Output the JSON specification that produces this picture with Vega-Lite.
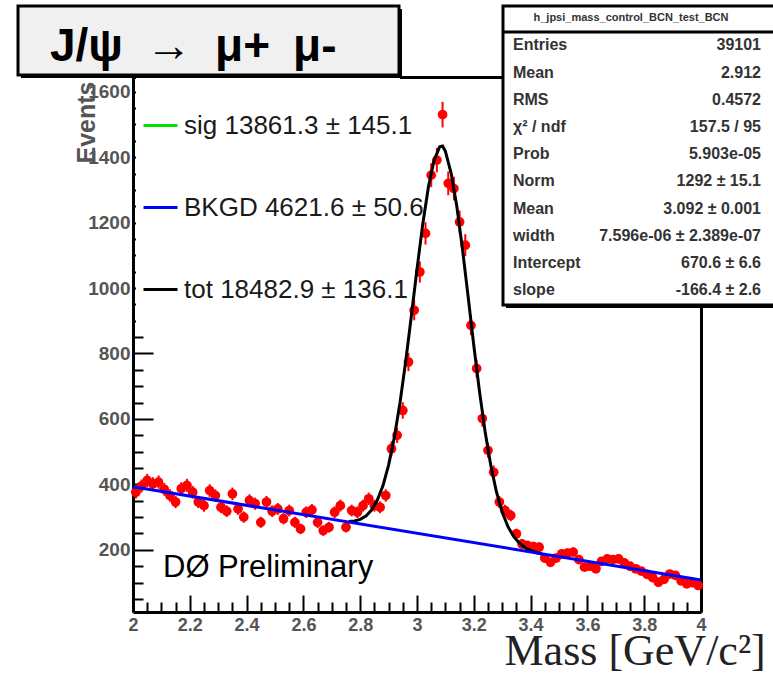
{
  "$schema": "https://vega.github.io/schema/vega-lite/v6.json",
  "width": 568,
  "height": 535,
  "autosize": {"type": "none"},
  "padding": {"left": 133, "top": 77, "right": 72, "bottom": 62},
  "background": "white",
  "datasets": {
    "hist": [
      {"mass": 2.01, "n": 376, "err": 19.4}, {"mass": 2.03, "n": 395, "err": 19.9}, {"mass": 2.05, "n": 412, "err": 20.3}, {"mass": 2.07, "n": 402, "err": 20.0}, {"mass": 2.09, "n": 407, "err": 20.2},
      {"mass": 2.11, "n": 385, "err": 19.6}, {"mass": 2.13, "n": 366, "err": 19.1}, {"mass": 2.15, "n": 346, "err": 18.6}, {"mass": 2.17, "n": 387, "err": 19.7}, {"mass": 2.19, "n": 397, "err": 19.9},
      {"mass": 2.21, "n": 376, "err": 19.4}, {"mass": 2.23, "n": 346, "err": 18.6}, {"mass": 2.25, "n": 335, "err": 18.3}, {"mass": 2.27, "n": 381, "err": 19.5}, {"mass": 2.29, "n": 366, "err": 19.1},
      {"mass": 2.31, "n": 330, "err": 18.2}, {"mass": 2.33, "n": 318, "err": 17.8}, {"mass": 2.35, "n": 371, "err": 19.3}, {"mass": 2.37, "n": 325, "err": 18.0}, {"mass": 2.39, "n": 300, "err": 17.3},
      {"mass": 2.41, "n": 351, "err": 18.7}, {"mass": 2.43, "n": 341, "err": 18.5}, {"mass": 2.45, "n": 284, "err": 16.9}, {"mass": 2.47, "n": 346, "err": 18.6}, {"mass": 2.49, "n": 318, "err": 17.8},
      {"mass": 2.51, "n": 325, "err": 18.0}, {"mass": 2.53, "n": 295, "err": 17.2}, {"mass": 2.55, "n": 320, "err": 17.9}, {"mass": 2.57, "n": 284, "err": 16.9}, {"mass": 2.59, "n": 264, "err": 16.2},
      {"mass": 2.61, "n": 315, "err": 17.7}, {"mass": 2.63, "n": 322, "err": 17.9}, {"mass": 2.65, "n": 284, "err": 16.9}, {"mass": 2.67, "n": 259, "err": 16.1}, {"mass": 2.69, "n": 269, "err": 16.4},
      {"mass": 2.71, "n": 315, "err": 17.7}, {"mass": 2.73, "n": 335, "err": 18.3}, {"mass": 2.75, "n": 269, "err": 16.4}, {"mass": 2.77, "n": 320, "err": 17.9}, {"mass": 2.79, "n": 315, "err": 17.7},
      {"mass": 2.81, "n": 335, "err": 18.3}, {"mass": 2.83, "n": 356, "err": 18.9}, {"mass": 2.85, "n": 335, "err": 18.3}, {"mass": 2.87, "n": 330, "err": 18.2}, {"mass": 2.89, "n": 366, "err": 19.1},
      {"mass": 2.91, "n": 509, "err": 22.6}, {"mass": 2.93, "n": 550, "err": 23.5}, {"mass": 2.95, "n": 626, "err": 25.0}, {"mass": 2.97, "n": 774, "err": 27.8}, {"mass": 2.99, "n": 932, "err": 30.5},
      {"mass": 3.01, "n": 1049, "err": 32.4}, {"mass": 3.03, "n": 1167, "err": 34.2}, {"mass": 3.05, "n": 1345, "err": 36.7}, {"mass": 3.07, "n": 1391, "err": 37.3}, {"mass": 3.09, "n": 1530, "err": 39.1},
      {"mass": 3.11, "n": 1320, "err": 36.3}, {"mass": 3.13, "n": 1304, "err": 36.1}, {"mass": 3.15, "n": 1202, "err": 34.7}, {"mass": 3.17, "n": 1131, "err": 33.6}, {"mass": 3.19, "n": 886, "err": 29.8},
      {"mass": 3.21, "n": 754, "err": 27.5}, {"mass": 3.23, "n": 601, "err": 24.5}, {"mass": 3.25, "n": 504, "err": 22.4}, {"mass": 3.27, "n": 437, "err": 20.9}, {"mass": 3.29, "n": 346, "err": 18.6},
      {"mass": 3.31, "n": 320, "err": 17.9}, {"mass": 3.33, "n": 305, "err": 17.5}, {"mass": 3.35, "n": 249, "err": 15.8}, {"mass": 3.37, "n": 218, "err": 14.8}, {"mass": 3.39, "n": 213, "err": 14.6},
      {"mass": 3.41, "n": 210, "err": 14.5}, {"mass": 3.43, "n": 208, "err": 14.4}, {"mass": 3.45, "n": 175, "err": 13.2}, {"mass": 3.47, "n": 162, "err": 12.7}, {"mass": 3.49, "n": 175, "err": 13.2},
      {"mass": 3.51, "n": 188, "err": 13.7}, {"mass": 3.53, "n": 190, "err": 13.8}, {"mass": 3.55, "n": 193, "err": 13.9}, {"mass": 3.57, "n": 170, "err": 13.0}, {"mass": 3.59, "n": 147, "err": 12.1},
      {"mass": 3.61, "n": 150, "err": 12.2}, {"mass": 3.63, "n": 142, "err": 11.9}, {"mass": 3.65, "n": 165, "err": 12.8}, {"mass": 3.67, "n": 172, "err": 13.1}, {"mass": 3.69, "n": 170, "err": 13.0},
      {"mass": 3.71, "n": 172, "err": 13.1}, {"mass": 3.73, "n": 160, "err": 12.6}, {"mass": 3.75, "n": 150, "err": 12.2}, {"mass": 3.77, "n": 142, "err": 11.9}, {"mass": 3.79, "n": 135, "err": 11.6},
      {"mass": 3.81, "n": 125, "err": 11.2}, {"mass": 3.83, "n": 115, "err": 10.7}, {"mass": 3.85, "n": 101, "err": 10.0}, {"mass": 3.87, "n": 110, "err": 10.5}, {"mass": 3.89, "n": 126, "err": 11.2},
      {"mass": 3.91, "n": 122, "err": 11.0}, {"mass": 3.93, "n": 105, "err": 10.2}, {"mass": 3.95, "n": 96, "err": 9.8}, {"mass": 3.97, "n": 100, "err": 10.0}, {"mass": 3.99, "n": 91, "err": 9.5}
    ],
    "tot": [
      {"series": "tot", "mass": 2.76, "n": 286.8}, {"series": "tot", "mass": 2.78, "n": 288.3}, {"series": "tot", "mass": 2.80, "n": 293.2}, {"series": "tot", "mass": 2.82, "n": 303.5},
      {"series": "tot", "mass": 2.84, "n": 321.7}, {"series": "tot", "mass": 2.86, "n": 351.2}, {"series": "tot", "mass": 2.88, "n": 395.7}, {"series": "tot", "mass": 2.90, "n": 458.7},
      {"series": "tot", "mass": 2.92, "n": 542.8}, {"series": "tot", "mass": 2.94, "n": 648.7}, {"series": "tot", "mass": 2.96, "n": 774.4}, {"series": "tot", "mass": 2.98, "n": 913.8},
      {"series": "tot", "mass": 3.00, "n": 1057.7}, {"series": "tot", "mass": 3.02, "n": 1193.7}, {"series": "tot", "mass": 3.04, "n": 1308.2}, {"series": "tot", "mass": 3.06, "n": 1390.0},
      {"series": "tot", "mass": 3.08, "n": 1432.0}, {"series": "tot", "mass": 3.09, "n": 1434.0}, {"series": "tot", "mass": 3.10, "n": 1418.0}, {"series": "tot", "mass": 3.12, "n": 1351.5},
      {"series": "tot", "mass": 3.14, "n": 1250.5}, {"series": "tot", "mass": 3.16, "n": 1120.1}, {"series": "tot", "mass": 3.18, "n": 973.6}, {"series": "tot", "mass": 3.20, "n": 824.5},
      {"series": "tot", "mass": 3.22, "n": 684.1}, {"series": "tot", "mass": 3.24, "n": 560.1}, {"series": "tot", "mass": 3.26, "n": 457.2}, {"series": "tot", "mass": 3.28, "n": 376.0},
      {"series": "tot", "mass": 3.30, "n": 315.1}, {"series": "tot", "mass": 3.32, "n": 271.4}, {"series": "tot", "mass": 3.34, "n": 241.1}, {"series": "tot", "mass": 3.36, "n": 220.8},
      {"series": "tot", "mass": 3.38, "n": 207.2}, {"series": "tot", "mass": 3.40, "n": 198.2}, {"series": "tot", "mass": 3.42, "n": 192.0}, {"series": "tot", "mass": 3.44, "n": 187.2}
    ],
    "bkg": [
      {"series": "BKGD", "mass": 2.0, "n": 393},
      {"series": "BKGD", "mass": 4.0, "n": 108}
    ],
    "stats": [
      {"row": 1, "name": "Entries", "val": "39101"},
      {"row": 2, "name": "Mean", "val": "2.912"},
      {"row": 3, "name": "RMS", "val": "0.4572"},
      {"row": 4, "name": "χ² / ndf", "val": "157.5 / 95"},
      {"row": 5, "name": "Prob", "val": "5.903e-05"},
      {"row": 6, "name": "Norm", "val": "1292 ± 15.1"},
      {"row": 7, "name": "Mean", "val": "3.092 ± 0.001"},
      {"row": 8, "name": "width", "val": "7.596e-06 ± 2.389e-07"},
      {"row": 9, "name": "Intercept", "val": "670.6 ± 6.6"},
      {"row": 10, "name": "slope", "val": "-166.4 ± 2.6"}
    ]
  },
  "layer": [
    {
      "layer": [
        {
          "data": {"values": [{"box": "legend"}]},
          "mark": {"type": "rect", "fill": "white"},
          "encoding": {"x": {"datum": 2.0106}, "x2": {"datum": 2.9401}, "y": {"datum": 1641.9}, "y2": {"datum": 865.7}}
        },
        {
          "data": {"name": "hist"},
          "mark": {"type": "errorbar", "ticks": false, "thickness": 2, "color": "#ff0000"},
          "encoding": {
            "x": {"field": "mass", "type": "quantitative", "title": "Mass [GeV/c²]"},
            "y": {"field": "n", "type": "quantitative", "title": "Events"},
            "yError": {"field": "err"}
          }
        },
        {
          "data": {"name": "hist"},
          "mark": {"type": "point", "filled": true, "shape": "circle", "size": 95, "color": "#ff0000", "opacity": 1},
          "encoding": {
            "x": {
              "field": "mass", "type": "quantitative", "title": "Mass [GeV/c²]",
              "scale": {"domain": [2, 4], "nice": false, "zero": false},
              "axis": {
                "values": [2, 2.2, 2.4, 2.6, 2.8, 3, 3.2, 3.4, 3.6, 3.8, 4],
                "format": "~g", "tickSize": -17, "labelFlush": false, "labelPadding": 21,
                "domainWidth": 3, "labelFontSize": 18, "labelFontWeight": "bold", "labelColor": "#555555",
                "titleFont": "Liberation Serif", "titleFontSize": 44, "titleFontWeight": "normal",
                "titleColor": "#222222", "titleAlign": "left", "titleBaseline": "alphabetic", "titleX": 371, "titleY": 52
              }
            },
            "y": {
              "field": "n", "type": "quantitative", "title": "Events",
              "scale": {"domain": [10, 1645], "nice": false, "zero": false},
              "axis": {
                "values": [200, 400, 600, 800, 1000, 1200, 1400, 1600],
                "format": "d", "tickSize": -20, "labelPadding": 23,
                "domainWidth": 3, "labelFontSize": 19, "labelFontWeight": "bold", "labelColor": "#555555",
                "titleFontSize": 25, "titleFontWeight": "bold", "titleColor": "#555555",
                "titleAngle": -90, "titleAlign": "center", "titleBaseline": "middle", "titleX": -47, "titleY": 45
              }
            }
          }
        },
        {
          "data": {"name": "tot"},
          "mark": {"type": "line", "strokeWidth": 3},
          "encoding": {
            "x": {"field": "mass", "type": "quantitative", "title": "Mass [GeV/c²]"},
            "y": {"field": "n", "type": "quantitative", "title": "Events"},
            "color": {
              "field": "series", "type": "nominal",
              "scale": {"domain": ["sig", "BKGD", "tot"], "range": ["#00e000", "#0000ff", "#000000"]},
              "legend": {
                "orient": "none", "legendX": 9, "legendY": 30, "title": null, "padding": 0,
                "symbolType": "stroke", "symbolSize": 1156, "symbolStrokeWidth": 3,
                "labelFontSize": 26, "labelFont": "Liberation Sans", "labelColor": "#1a1a1a",
                "labelOffset": 5, "rowPadding": 50, "labelLimit": 500,
                "labelExpr": "datum.label == 'sig' ? 'sig 13861.3 ± 145.1' : datum.label == 'BKGD' ? 'BKGD 4621.6 ± 50.6' : 'tot 18482.9 ± 136.1'"
              }
            }
          }
        },
        {
          "data": {"values": [{"label": "DØ Preliminary"}]},
          "mark": {"type": "text", "align": "left", "baseline": "alphabetic", "fontSize": 31, "font": "Liberation Sans", "color": "black"},
          "encoding": {"x": {"datum": 2.1056}, "y": {"datum": 117}, "text": {"field": "label"}}
        },
        {
          "data": {"values": [{"box": "title shadow"}]},
          "mark": {"type": "rect", "fill": "black"},
          "encoding": {"x": {"datum": 1.6057}, "x2": {"datum": 2.9472}, "y": {"datum": 1852.8}, "y2": {"datum": 1641.9}}
        },
        {
          "data": {"values": [{"box": "title"}]},
          "mark": {"type": "rect", "fill": "#f0f0f0", "stroke": "black", "strokeWidth": 3},
          "encoding": {"x": {"datum": 1.5951}, "x2": {"datum": 2.9366}, "y": {"datum": 1862.0}, "y2": {"datum": 1651.1}}
        },
        {
          "data": {"values": [{"label": "J/ψ\u2002→\u2002μ+\u2002μ-"}]},
          "mark": {"type": "text", "align": "left", "baseline": "alphabetic", "fontSize": 46, "fontWeight": "bold", "font": "Liberation Sans", "color": "black"},
          "encoding": {"x": {"datum": 1.7077}, "y": {"datum": 1693.9}, "text": {"field": "label"}}
        },
        {
          "data": {"values": [{"box": "stats shadow"}]},
          "mark": {"type": "rect", "fill": "black"},
          "encoding": {"x": {"datum": 3.3134}, "x2": {"datum": 4.36}, "y": {"datum": 1852.8}, "y2": {"datum": 939.0}}
        },
        {
          "data": {"values": [{"box": "stats"}]},
          "mark": {"type": "rect", "fill": "white", "stroke": "black", "strokeWidth": 3},
          "encoding": {"x": {"datum": 3.3028}, "x2": {"datum": 4.35}, "y": {"datum": 1862.0}, "y2": {"datum": 948.2}}
        },
        {
          "data": {"values": [{"box": "stats separator"}]},
          "mark": {"type": "rule", "color": "black", "strokeWidth": 3},
          "encoding": {"x": {"datum": 3.3028}, "x2": {"datum": 4.35}, "y": {"datum": 1782.5}}
        }
      ]
    },
    {
      "data": {"name": "bkg"},
      "mark": {"type": "line", "strokeWidth": 3},
      "encoding": {
        "x": {
          "field": "mass", "type": "quantitative",
          "axis": {
            "orient": "bottom",
            "values": [2.05, 2.1, 2.15, 2.25, 2.3, 2.35, 2.45, 2.5, 2.55, 2.65, 2.7, 2.75, 2.85, 2.9, 2.95, 3.05, 3.1, 3.15, 3.25, 3.3, 3.35, 3.45, 3.5, 3.55, 3.65, 3.7, 3.75, 3.85, 3.9, 3.95],
            "tickSize": -10, "labels": false, "domain": false, "title": null
          }
        },
        "y": {
          "field": "n", "type": "quantitative",
          "scale": {"domain": [10, 1645], "nice": false, "zero": false},
          "axis": {
            "orient": "left",
            "values": [50, 100, 150, 250, 300, 350, 450, 500, 550, 650, 700, 750, 850, 900, 950, 1050, 1100, 1150, 1250, 1300, 1350, 1450, 1500, 1550],
            "tickSize": -10, "labels": false, "domain": false, "title": null
          }
        },
        "color": {"field": "series", "type": "nominal"}
      }
    },
    {
      "layer": [
        {
          "data": {"name": "stats"},
          "mark": {"type": "text", "align": "left", "baseline": "middle", "fontSize": 16, "fontWeight": "bold", "font": "Liberation Sans", "color": "#333333"},
          "encoding": {
            "x": {"datum": 3.338, "axis": {"orient": "top", "ticks": false, "labels": false, "title": null, "domainWidth": 3}},
            "y": {
              "field": "row", "type": "quantitative",
              "scale": {"domain": [2.16, 21.85], "reverse": true, "nice": false, "zero": false},
              "axis": {"orient": "right", "ticks": false, "labels": false, "title": null, "domainWidth": 3}
            },
            "text": {"field": "name"}
          }
        },
        {
          "data": {"name": "stats"},
          "mark": {"type": "text", "align": "right", "baseline": "middle", "fontSize": 16, "fontWeight": "bold", "font": "Liberation Sans", "color": "#333333"},
          "encoding": {
            "x": {"datum": 4.2113},
            "y": {"field": "row", "type": "quantitative"},
            "text": {"field": "val"}
          }
        },
        {
          "data": {"values": [{"label": "h_jpsi_mass_control_BCN_test_BCN"}]},
          "mark": {"type": "text", "align": "center", "baseline": "middle", "fontSize": 11, "fontWeight": "bold", "font": "Liberation Sans", "color": "#333333"},
          "encoding": {"x": {"datum": 3.7535}, "y": {"datum": 0}, "text": {"field": "label"}}
        }
      ]
    }
  ],
  "resolve": {"scale": {"y": "independent"}, "axis": {"x": "independent", "y": "independent"}},
  "config": {
    "view": {"stroke": null},
    "font": "Liberation Sans",
    "axis": {"grid": false, "domainColor": "black", "tickColor": "black", "tickWidth": 2, "labelFont": "Liberation Sans", "titleFont": "Liberation Sans"}
  }
}
